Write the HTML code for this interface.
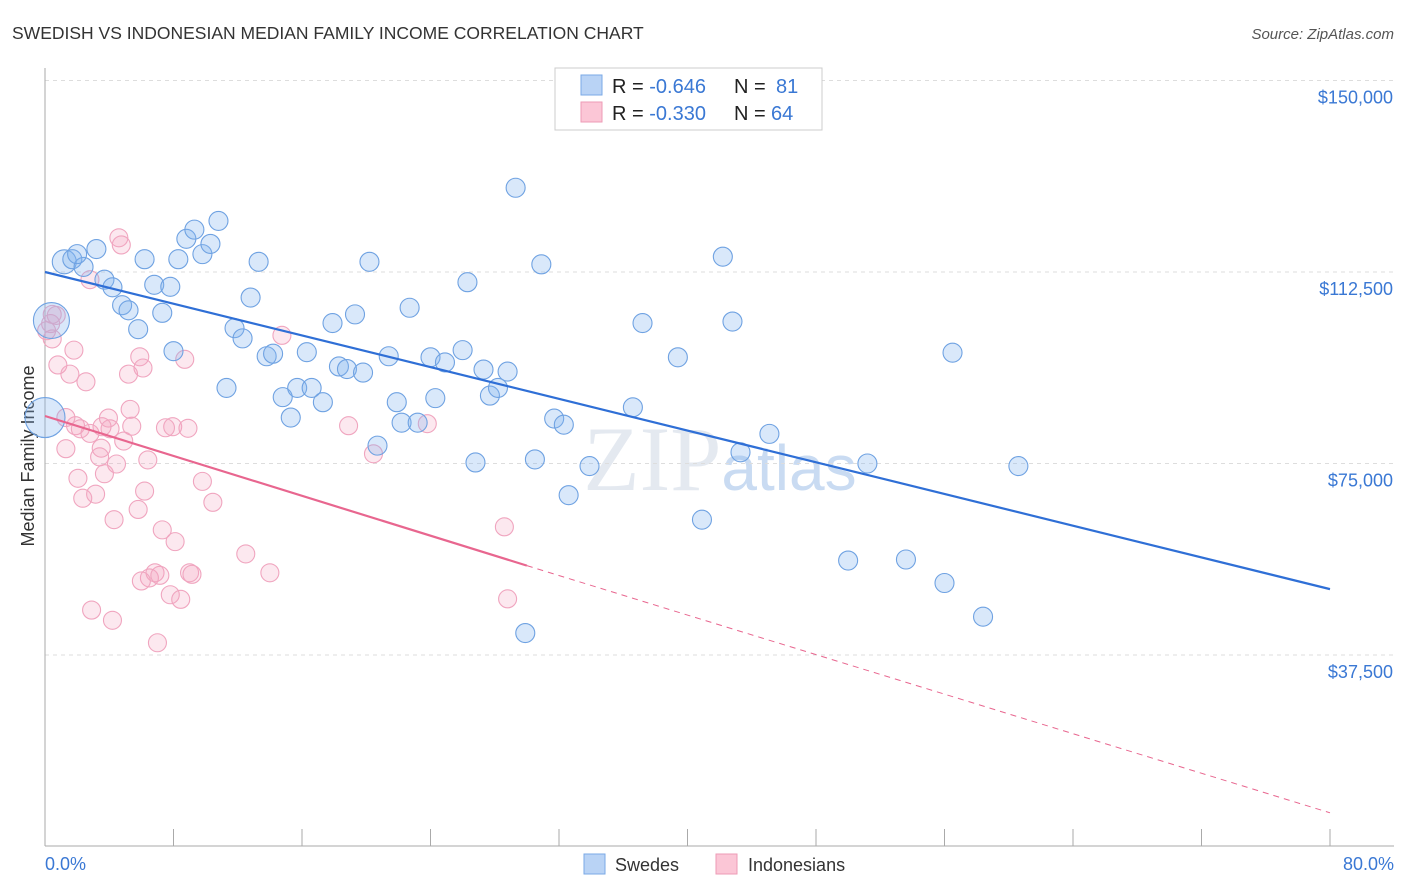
<!DOCTYPE html>
<html><head><meta charset="utf-8"><style>
body{margin:0;background:#fff;font-family:"Liberation Sans",sans-serif;}
#c{position:relative;width:1406px;height:892px;overflow:hidden}
</style></head><body>
<div id="c">
<svg id="s" width="1406" height="892" xmlns="http://www.w3.org/2000/svg" font-family="Liberation Sans, sans-serif">
<text x="12" y="39" font-size="17.5" fill="#333">SWEDISH VS INDONESIAN MEDIAN FAMILY INCOME CORRELATION CHART</text>
<text x="1394" y="39" font-size="15" fill="#555" font-style="italic" text-anchor="end">Source: ZipAtlas.com</text>
<text x="34" y="456" font-size="18" fill="#333" text-anchor="middle" transform="rotate(-90 34 456)">Median Family Income</text>
<text x="720" y="490" font-size="92" fill="#e4e9f0" text-anchor="middle" font-family="Liberation Serif, serif">ZIP<tspan font-family="Liberation Sans, sans-serif" font-size="64" fill="#c9dbf2">atlas</tspan></text>
<g id="grid"></g><g id="pts"></g><g id="lines"></g>
<text x="45" y="870" font-size="18" fill="#3a78d4">0.0%</text>
<text x="1394" y="870" font-size="18" fill="#3a78d4" text-anchor="end">80.0%</text>
<g>
<rect x="555" y="68" width="267" height="62" fill="#fff" stroke="#ccc"/>
<rect x="581" y="75" width="21" height="20" fill="#b9d3f5" stroke="#7aa8e6"/>
<rect x="581" y="102" width="21" height="20" fill="#fbc6d6" stroke="#ee9bb6"/>
<text x="612" y="93" font-size="20" fill="#222">R = <tspan fill="#3a78d4">-0.646</tspan><tspan x="734">N = </tspan><tspan x="776" fill="#3a78d4">81</tspan></text>
<text x="612" y="120" font-size="20" fill="#222">R = <tspan fill="#3a78d4">-0.330</tspan><tspan x="734">N = </tspan><tspan x="771" fill="#3a78d4">64</tspan></text>
</g>
<g>
<rect x="584" y="854" width="21" height="20" fill="#b9d3f5" stroke="#7aa8e6"/>
<text x="615" y="871" font-size="18" fill="#333">Swedes</text>
<rect x="716" y="854" width="21" height="20" fill="#fbc6d6" stroke="#ee9bb6"/>
<text x="748" y="871" font-size="18" fill="#333">Indonesians</text>
</g>
</svg></div>
<script>
const yTicks=[37500,75000,112500,150000];
const yTickLabels=["$37,500","$75,000","$112,500","$150,000"];
const blueX=[0.4,0,1.2,1.7,2.4,3.2,3.7,4.2,4.8,5.2,5.8,6.2,6.8,7.3,7.8,8.3,8.8,9.3,9.8,10.3,10.8,11.3,11.8,12.3,12.8,13.3,13.8,14.2,14.8,15.3,15.7,16.3,16.6,17.3,17.9,18.3,18.8,19.3,19.8,20.2,20.7,21.4,21.9,22.2,22.7,23.2,24.0,24.3,24.9,26.0,26.3,26.8,27.3,27.7,28.2,28.8,29.3,29.9,30.5,30.9,31.7,32.3,32.6,33.9,36.6,37.2,39.4,40.9,42.2,42.8,43.3,45.1,50.0,51.2,53.6,56.0,56.5,58.4,60.6,2.0,8.0];
const blueY=[103000,84000,114500,115000,113500,117000,111000,109500,106000,105000,101300,115000,110000,104500,109600,115000,119000,120800,116000,118000,122500,89800,101500,99500,107500,114500,96000,96500,88000,84000,89800,96800,89800,87000,102500,94000,93500,104200,92800,114500,78500,96000,87000,83000,105500,83000,95800,87800,94800,97200,110500,75200,93400,88300,89800,93000,129000,41800,75800,114000,83800,82600,68800,74500,86000,102500,95800,64000,115500,102800,77200,80800,56000,75000,56200,51600,96700,45000,74500,116000,97000];
const pinkX=[0.45,0.35,0.45,0.8,1.3,1.55,1.8,1.9,2.2,2.05,2.35,2.55,2.8,2.9,3.15,3.4,3.55,3.7,3.95,4.05,4.2,4.3,4.45,4.6,4.75,4.9,5.2,5.3,5.4,5.8,5.9,6.1,6.2,6.4,6.5,6.85,7.0,7.15,7.3,7.8,7.95,8.1,8.45,8.7,8.9,9.0,9.15,9.8,10.45,12.5,14.0,14.75,18.9,20.45,23.8,28.6,28.8,0.7,2.8,1.3,0.1,3.5,6.0,7.5];
const pinkY=[104200,102400,99400,94300,77900,92500,97200,82400,81800,72100,68200,91000,80900,46300,69000,76300,82200,73000,83900,81800,44300,64000,74900,119200,117800,79400,92500,85600,82300,66000,95900,93700,69600,75700,52600,53600,39900,53100,62000,49300,82200,59700,48400,95400,81900,53600,53300,71500,67400,57300,53600,100100,82400,76900,82800,62600,48500,104000,111000,84000,101000,78000,52000,82000];
const X0=45,X1=1330,Y0=846.5,YS=191.5/37500;
const xs=v=>X0+(X1-X0)*v/80, ys=v=>Y0-v*YS;
const ns="http://www.w3.org/2000/svg";
function mk(t,a,p){const e=document.createElementNS(ns,t);for(const k in a)e.setAttribute(k,a[k]);p.appendChild(e);return e;}
const g=document.getElementById('grid');
yTicks.forEach((v,i)=>{
 const l=mk('line',{x1:X0,x2:1394,y1:ys(v),y2:ys(v),stroke:'#ddd','stroke-dasharray':'4,4'},g);
 
 
 const t=mk('text',{x:1393,y:ys(v)+23,'font-size':18,fill:'#3a78d4','text-anchor':'end'},g);
 t.textContent=yTickLabels[i];
 
 
});
const ax=mk('line',{x1:X0,x2:X0,y1:68,y2:846,stroke:'#aaa'},g);


const bx=mk('line',{x1:X0,x2:1394,y1:846,y2:846,stroke:'#aaa'},g);


for(let i=0;i<=10;i++){const tk=mk('line',{x1:xs(i*8),x2:xs(i*8),y1:829,y2:846,stroke:'#aaa'},g);
 
 }
const P=document.getElementById('pts');
pinkX.forEach((v,i)=>{const c=mk('circle',{cx:xs(v),cy:ys(pinkY[i]),r:9,fill:'rgba(245,165,192,0.25)',stroke:'#f0a5bf','stroke-width':1.1},P);
 
 });
blueX.forEach((v,i)=>{const r=i==0?18:i==1?20:i==2?12:9.5;const c=mk('circle',{cx:xs(v),cy:ys(blueY[i]),r:r,fill:'rgba(130,180,238,0.3)',stroke:'#6fa2e2','stroke-width':1.1},P);
 
 });
const L=document.getElementById('lines');
const bl=mk('line',{x1:xs(0),y1:ys(112500),x2:xs(80),y2:ys(50400),stroke:'#2f6fd6','stroke-width':2.2},L);


const pl=mk('line',{x1:xs(0),y1:ys(84300),x2:xs(30),y2:ys(55000),stroke:'#e8668f','stroke-width':2.2},L);


const pd=mk('line',{x1:xs(30),y1:ys(55000),x2:xs(80),y2:ys(6600),stroke:'#e8668f','stroke-width':1,'stroke-dasharray':'6,5'},L);


</script>
</body></html>
